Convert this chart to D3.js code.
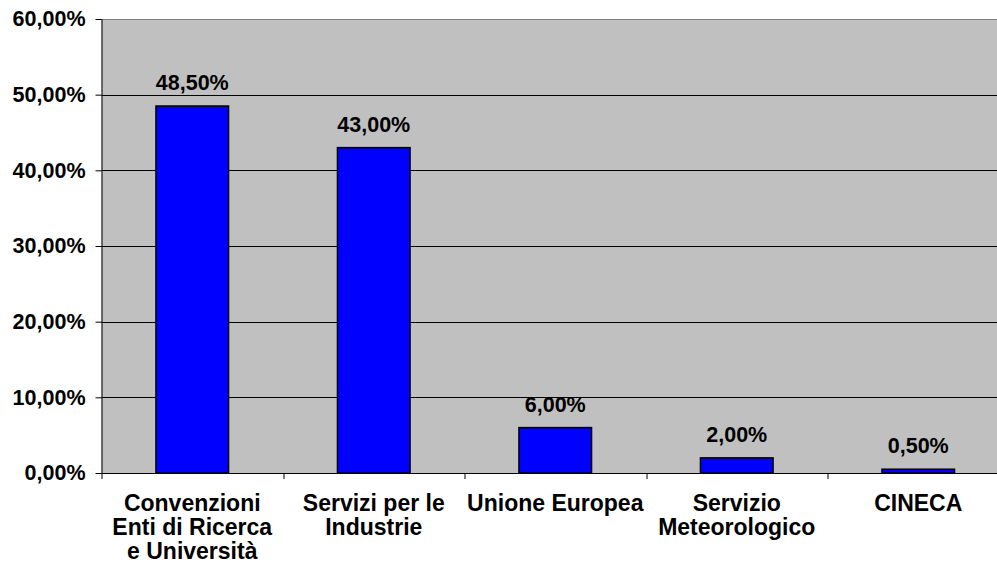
<!DOCTYPE html>
<html>
<head>
<meta charset="utf-8">
<script src="https://cdn.jsdelivr.net/npm/d3@7"></script>
<style>
  html, body { margin: 0; padding: 0; background: #fff; }
  svg { display: block; }
  text { font-family: "Liberation Sans", Arial, sans-serif; font-weight: bold; fill: #000; }
</style>
</head>
<body>
<svg id="chart" width="997" height="573"></svg>
<script>
// Funding sources, share of total (%)
const categories = [
  ["Convenzioni", "Enti di Ricerca", "e Università"],
  ["Servizi per le", "Industrie"],
  ["Unione Europea"],
  ["Servizio", "Meteorologico"],
  ["CINECA"]
];
const values = [48.5, 43.0, 6.0, 2.0, 0.5];
const yTicks = [0, 10, 20, 30, 40, 50, 60];

const fmt = v => v.toFixed(2).replace(".", ",") + "%";

const svg = d3.select("#chart");
const margin = { left: 101.5, top: 19, right: -12, bottom: 100 };
const W = 997, H = 573;
const plotW = W - margin.left - margin.right;
const plotH = H - margin.top - margin.bottom;

const x = d3.scaleBand()
  .domain(d3.range(categories.length))
  .range([0, plotW])
  .paddingInner(0.6)
  .paddingOuter(0.3);
const xb = d3.scaleBand().domain(d3.range(categories.length)).range([0, plotW]);
const y = d3.scaleLinear().domain([0, 60]).range([plotH, 0]);

const g = svg.append("g").attr("transform", `translate(${margin.left},${margin.top})`);

// plot background
g.append("rect").attr("x", 0).attr("y", 0).attr("width", plotW).attr("height", plotH)
  .attr("fill", "#c0c0c0");

// horizontal gridlines
g.selectAll("line.grid").data(yTicks.filter(t => t > 0)).enter().append("line")
  .attr("class", "grid")
  .attr("x1", 0).attr("x2", plotW)
  .attr("y1", d => Math.round(y(d)) + 0.5).attr("y2", d => Math.round(y(d)) + 0.5)
  .attr("stroke", d => d === 60 ? "#808080" : "#000")
  .attr("stroke-width", 1);

// bars
g.selectAll("rect.bar").data(values).enter().append("rect")
  .attr("class", "bar")
  .attr("x", (d, i) => x(i))
  .attr("y", d => y(d))
  .attr("width", x.bandwidth())
  .attr("height", d => plotH - y(d))
  .attr("fill", "#0000ff")
  .attr("stroke", "#000")
  .attr("stroke-width", 1.5);

// value labels
g.selectAll("text.val").data(values).enter().append("text")
  .attr("class", "val")
  .attr("x", (d, i) => x(i) + x.bandwidth() / 2)
  .attr("y", d => y(d) - 16)
  .attr("text-anchor", "middle")
  .attr("font-size", 21.5)
  .text(d => fmt(d));

// y axis
const yAxis = d3.axisLeft(y).tickValues(yTicks).tickFormat(d => fmt(d))
  .tickSize(6).tickPadding(10);
const ya = g.append("g").call(yAxis);
ya.select(".domain").attr("stroke", "#000").attr("d", `M0.5,0V${plotH}`);
ya.selectAll(".tick line").attr("stroke", "#000");
ya.selectAll(".tick text").attr("font-size", 21.5).attr("fill", "#000")
  .attr("font-family", '"Liberation Sans", Arial, sans-serif').attr("font-weight", "bold");

// x axis
const xa = g.append("g").attr("transform", `translate(0,${plotH})`);
xa.append("line").attr("x1", 0).attr("x2", plotW).attr("y1", 0.5).attr("y2", 0.5)
  .attr("stroke", "#000");
xa.selectAll("line.tick").data(d3.range(categories.length + 1)).enter().append("line")
  .attr("class", "tick")
  .attr("x1", i => Math.round(i * xb.step()) + 0.5).attr("x2", i => Math.round(i * xb.step()) + 0.5)
  .attr("y1", 0).attr("y2", 6).attr("stroke", "#000");

const labels = xa.selectAll("text.cat").data(categories).enter().append("text")
  .attr("class", "cat")
  .attr("text-anchor", "middle")
  .attr("font-size", 23)
  .attr("transform", (d, i) => `translate(${xb(i) + xb.bandwidth() / 2},38)`);
labels.selectAll("tspan").data(d => d).enter().append("tspan")
  .attr("x", 0).attr("dy", (d, i) => i === 0 ? 0 : 24.2)
  .text(d => d);
</script>
</body>
</html>
